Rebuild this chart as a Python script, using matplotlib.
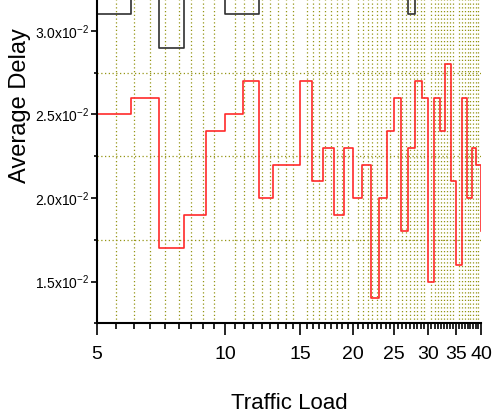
import numpy as np
import matplotlib
matplotlib.use('Agg')
import matplotlib.pyplot as plt
from matplotlib.ticker import FixedLocator, FuncFormatter, NullFormatter

# traffic load (integer steps, first point sits left of the visible range)
load = np.arange(4, 41)

# average delay, units of 1e-2
red_delay = [2.3, 2.5, 2.6, 1.7, 1.9, 2.4, 2.5, 2.7, 2.0, 2.2,
             2.2, 2.7, 2.1, 2.3, 1.9, 2.3, 2.0, 2.2, 1.4, 2.0,
             2.4, 2.6, 1.8, 2.3, 2.7, 2.6, 1.5, 2.6, 2.4, 2.8,
             2.1, 1.6, 2.6, 2.0, 2.3, 2.2, 1.8]
# black series is mostly above the visible window
black_delay = [3.1, 3.1, 3.3, 2.9, 3.3, 3.3, 3.1, 3.1, 3.3, 3.3,
               3.3, 3.3, 3.3, 3.3, 3.3, 3.3, 3.3, 3.3, 3.3, 3.3,
               3.3, 3.3, 3.3, 3.1, 3.3, 3.3, 3.3, 3.3, 3.3, 3.3,
               3.3, 3.3, 3.3, 3.3, 3.3, 3.3, 3.3]

xticks = [5, 10, 15, 20, 25, 30, 35, 40]

plt.rcParams['font.family'] = ['Liberation Sans Narrow', 'Liberation Sans', 'DejaVu Sans']
plt.rcParams['mathtext.default'] = 'regular'

fig = plt.figure(figsize=(4.92, 4.15), dpi=100)
ax = fig.add_axes([97/492., 1 - 323.3/415., (481 - 97)/492., 323.3/415.])

ax.step(load, np.array(black_delay) * 1e-2, where='post', color='#303030', lw=1.2)
ax.step(load, np.array(red_delay) * 1e-2, where='post', color='#ff2a2a', lw=1.2)

ax.set_xscale('log')
ax.set_xlim(5, 40)
ax.set_ylim(0.0125, 0.03185)

# minor x ticks every 5/9 (linear spacing on a log axis)
xminor = [5 + k * 5/9. for k in range(64) if k % 9 != 0]
ax.xaxis.set_major_locator(FixedLocator(xticks))
ax.xaxis.set_minor_locator(FixedLocator(xminor))
ax.xaxis.set_major_formatter(FuncFormatter(lambda v, p: '%d' % round(v)))
ax.xaxis.set_minor_formatter(NullFormatter())

ax.yaxis.set_major_locator(FixedLocator([0.015, 0.020, 0.025, 0.030]))
ax.yaxis.set_minor_locator(FixedLocator([0.0125, 0.0175, 0.0225, 0.0275]))
ax.yaxis.set_major_formatter(FuncFormatter(lambda v, p: '%.1fx10$^{-2}$' % (v * 100)))

ax.grid(False)
ax.grid(which='minor', color='#959515', linestyle=(0, (1, 2)), linewidth=0.9)

for s in ['top', 'right']:
  ax.spines[s].set_visible(False)
for s in ['left', 'bottom']:
  ax.spines[s].set_linewidth(1.5)

ax.tick_params(axis='x', which='major', direction='out', length=8.6, width=1.2, pad=7.5, labelsize=14)
ax.tick_params(axis='x', which='minor', direction='out', length=4.3, width=1.2)
ax.tick_params(axis='y', which='major', direction='out', length=4.3, width=1.2, pad=1.5, labelsize=10)
ax.tick_params(axis='y', which='minor', direction='out', length=2.2, width=1.2)

fig.text(0.588, 0.014, 'Traffic Load', ha='center', va='baseline', fontsize=16)
fig.text(0.040, 0.745, 'Average Delay', rotation=90, ha='center', va='center',
         fontsize=17, family=['Liberation Sans', 'DejaVu Sans'])

fig.savefig('out.png', dpi=100)
